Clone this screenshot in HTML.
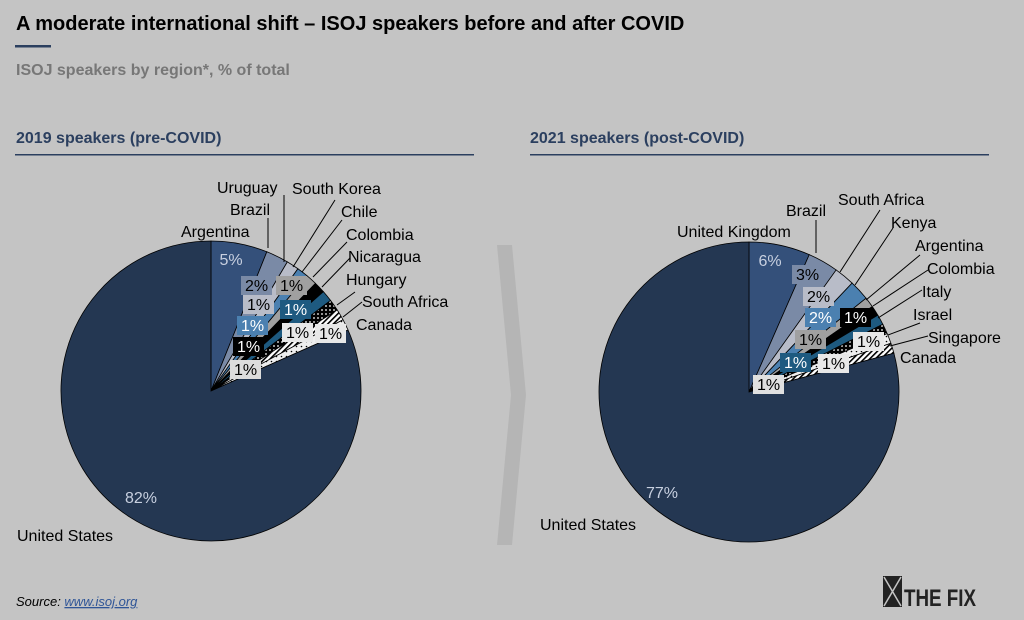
<!DOCTYPE html>
<html><head><meta charset="utf-8"><style>
body{margin:0;background:#c4c4c4;}
svg{display:block;font-family:"Liberation Sans",Arial,sans-serif;}
</style></head><body>
<svg id="s" width="1024" height="620" viewBox="0 0 1024 620" xmlns="http://www.w3.org/2000/svg">
<defs>
<pattern id="dots" width="4" height="4" patternUnits="userSpaceOnUse"><rect width="4" height="4" fill="#000"/><circle cx="2" cy="2" r="0.9" fill="#fff"/></pattern>
<pattern id="hatch" width="4" height="4" patternUnits="userSpaceOnUse" patternTransform="rotate(45)"><rect width="4" height="4" fill="#fff"/><rect width="1.6" height="4" fill="#000"/></pattern>
<pattern id="speck" width="5" height="5" patternUnits="userSpaceOnUse"><rect width="5" height="5" fill="#eee"/><circle cx="1.5" cy="1.5" r="0.8" fill="#000"/></pattern>
</defs>
<rect width="1024" height="620" fill="#c4c4c4"/>
<text x="16" y="30" font-size="20" font-weight="bold" fill="#000">A moderate international shift – ISOJ speakers before and after COVID</text>
<rect x="15" y="45" width="36" height="2.5" fill="#2b3f5f"/>
<text x="16" y="75" font-size="16" font-weight="bold" fill="#777">ISOJ speakers by region*, % of total</text>
<text x="16" y="143" font-size="16" font-weight="bold" fill="#2b3f5f">2019 speakers (pre-COVID)</text>
<rect x="15" y="154" width="459" height="1.5" fill="#2b3f5f"/>
<text x="530" y="143" font-size="16" font-weight="bold" fill="#2b3f5f">2021 speakers (post-COVID)</text>
<rect x="530" y="154" width="459" height="1.5" fill="#2b3f5f"/>
<polygon points="497,245 512,245 526,395 512,545 497,545 511,395" fill="#b5b5b5"/>
<g id="p1"></g><g id="p2"></g>
<g stroke="#000" stroke-width="1" fill="none">
<line x1="268" y1="218" x2="268" y2="248"/><line x1="284" y1="195" x2="284" y2="262"/>
<line x1="335" y1="200" x2="293" y2="267"/><line x1="342" y1="220" x2="302" y2="272"/>
<line x1="347" y1="242" x2="313" y2="277"/><line x1="350" y1="258" x2="322" y2="287"/>
<line x1="355" y1="292" x2="337" y2="305"/><line x1="362" y1="302" x2="343" y2="317"/>
<line x1="816" y1="220" x2="816" y2="253"/><line x1="880" y1="210" x2="840" y2="272"/>
<line x1="893" y1="228" x2="855" y2="285"/><line x1="920" y1="255" x2="866" y2="300"/>
<line x1="928" y1="270" x2="873" y2="306"/><line x1="922" y1="290" x2="878" y2="318"/>
<line x1="920" y1="323" x2="888" y2="335"/><line x1="928" y1="336" x2="890" y2="346"/>
</g>
<g font-size="16" fill="#000">
<text x="181" y="237">Argentina</text><text x="217" y="193">Uruguay</text><text x="292" y="194">South Korea</text>
<text x="230" y="215">Brazil</text><text x="341" y="217">Chile</text><text x="346" y="240">Colombia</text>
<text x="348" y="262">Nicaragua</text><text x="346" y="285">Hungary</text><text x="362" y="307">South Africa</text>
<text x="356" y="330">Canada</text><text x="17" y="541">United States</text>
<text x="677" y="237">United Kingdom</text><text x="786" y="216">Brazil</text><text x="838" y="205">South Africa</text>
<text x="891" y="228">Kenya</text><text x="915" y="251">Argentina</text><text x="927" y="274">Colombia</text>
<text x="922" y="297">Italy</text><text x="913" y="320">Israel</text><text x="928" y="343">Singapore</text>
<text x="900" y="363">Canada</text><text x="540" y="530">United States</text>
</g>
<g id="lb" font-size="16"></g>
<text x="16" y="606" font-size="13" font-style="italic" fill="#000">Source: <tspan fill="#2f5597" text-decoration="underline">www.isoj.org</tspan></text>
<rect x="883" y="576" width="19" height="31" fill="#222"/>
<path d="M884 577 L901 606 M901 577 L884 606" stroke="#c4c4c4" stroke-width="1.5"/>
<text x="904" y="606" font-size="24" font-weight="bold" fill="#222" textLength="72" lengthAdjust="spacingAndGlyphs">THE FIX</text>
</svg>
<script>
function pie(id,cx,cy,r,vals,cols,end){
 var g=document.getElementById(id),tot=vals.reduce((a,b)=>a+b,0),a=0,h='';
 var full=end/360;
 for(var i=0;i<vals.length;i++){
  var f=(i<vals.length-1)?vals[i]/tot*0+vals[i]:0;
 }
 var small=vals.slice(0,-1).reduce((a,b)=>a+b,0);
 var angs=vals.slice(0,-1).map(v=>v/small*end);angs.push(360-end);
 a=0;
 for(var i=0;i<angs.length;i++){
  var a0=a*Math.PI/180,a1=(a+angs[i])*Math.PI/180;
  var x0=cx+r*Math.sin(a0),y0=cy-r*Math.cos(a0),x1=cx+r*Math.sin(a1),y1=cy-r*Math.cos(a1);
  h+='<path d="M'+cx+' '+cy+' L'+x0+' '+y0+' A'+r+' '+r+' 0 '+(angs[i]>180?1:0)+' 1 '+x1+' '+y1+' Z" fill="'+cols[i]+'" stroke="#000" stroke-width="0.8"/>';
  a+=angs[i];
 }
 g.innerHTML=h;
}
pie('p1',211,391,150,[5,2,1.1,1,1,1,1,1,1,1,82],['#34507a','#7a8aa6','#b8bcc8','#4b80b0','#a0a0a0','#000','#1e5a80','url(#dots)','url(#hatch)','url(#speck)','#243752'],66);
pie('p2',749,392,150,[6,3,2,2,1,1,1,1,1,1,77],['#34507a','#7a8aa6','#b8bcc8','#4b80b0','#a0a0a0','#000','#1e5a80','url(#dots)','url(#speck)','url(#hatch)','#243752'],75);
var L=[[241,276,'2%','#7a8aa6','#000'],[276,276,'1%','#a0a0a0','#000'],[243,295,'1%','#b8bcc8','#000'],[280,300,'1%','#1e5a80','#fff'],
[237,316,'1%','#4b80b0','#fff'],[282,323,'1%','#e8e8e8','#000'],[315,324,'1%','#e8e8e8','#000'],[233,337,'1%','#000','#fff'],[230,360,'1%','#dcdcdc','#000'],
[792,265,'3%','#7a8aa6','#000'],[803,287,'2%','#b8bcc8','#000'],[805,308,'2%','#4b80b0','#fff'],[840,308,'1%','#000','#fff'],[795,330,'1%','#a0a0a0','#000'],
[853,332,'1%','#e8e8e8','#000'],[780,353,'1%','#1e5a80','#fff'],[818,354,'1%','#e8e8e8','#000'],[753,375,'1%','#e0e0e0','#000']];
var h='';L.forEach(l=>{h+='<rect x="'+l[0]+'" y="'+l[1]+'" width="31" height="19" fill="'+l[3]+'"/><text x="'+(l[0]+15.5)+'" y="'+(l[1]+15)+'" text-anchor="middle" fill="'+l[4]+'">'+l[2]+'</text>';});
h+='<text x="231" y="265" text-anchor="middle" fill="#c8d0e0">5%</text><text x="141" y="503" text-anchor="middle" fill="#c8d0e0">82%</text>';
h+='<text x="770" y="266" text-anchor="middle" fill="#c8d0e0">6%</text><text x="662" y="498" text-anchor="middle" fill="#c8d0e0">77%</text>';
document.getElementById('lb').innerHTML=h;
</script>
</body></html>
